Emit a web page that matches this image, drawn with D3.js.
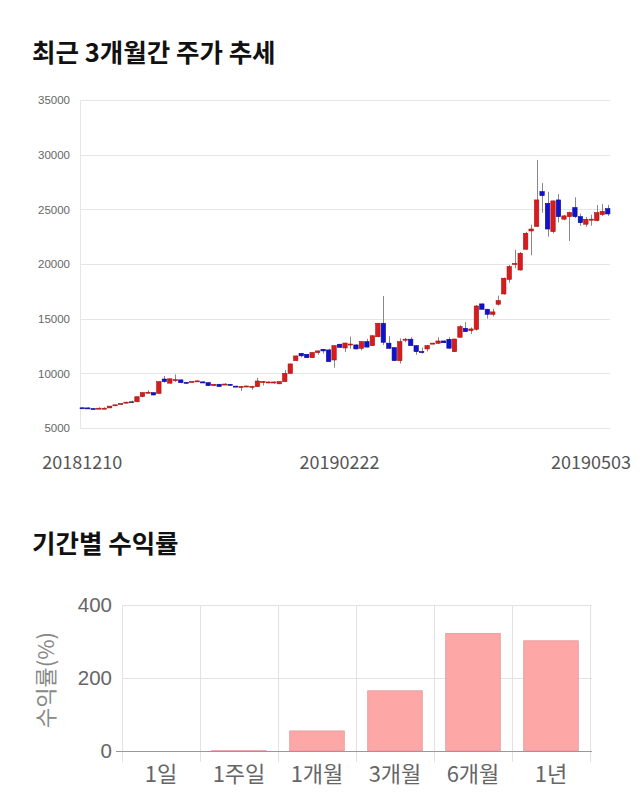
<!DOCTYPE html>
<html><head><meta charset="utf-8">
<script src="https://cdn.jsdelivr.net/npm/d3@7/dist/d3.min.js"></script>
<style>
body{margin:0;background:#fff;}
svg{display:block;}
</style></head><body>
<svg id="c" width="640" height="810"></svg>
<script>
// ---- Top chart data (candles, KRW) ----
const opens  = [6850,6840,6780,6800,6800,6840,7050,7180,7320,7400,7400,7870,8250,8230,8170,9480,9100,9400,9400,9180,9240,9300,9220,9150,8880,9000,8980,9000,8830,8700,8830,8800,8780,9240,9200,9200,9040,9240,10000,11160,11830,11740,11430,11900,12200,12140,11220,12660,12320,12620,12600,12290,12900,12530,13350,14580,12760,12350,11160,13100,13120,12530,11990,12230,12750,12750,12960,13110,11980,13300,14120,13900,14030,16350,15860,15400,16320,17260,18600,20000,19450,21350,23020,23440,26620,25550,22960,25860,24100,24330,25160,24330,23640,24090,23970,24520,25060];
const highs  = [6870,6870,6820,6900,6900,7010,7130,7260,7400,7500,7880,8260,8450,8250,9260,9750,9520,9900,9420,9200,9300,9350,9250,9160,9020,9020,9100,9020,8850,8820,8870,8850,9600,9300,9260,9260,9260,10300,10900,11620,11850,11760,11920,12100,12220,12250,12560,12700,12800,13350,12650,12950,13150,13460,14600,17070,13400,12380,13200,13250,13300,12560,12350,12600,12800,13300,13000,13300,13160,14400,14700,14200,16250,16400,15900,15900,17100,18750,19900,21300,21100,22950,23600,29520,27400,26600,25800,26400,24500,24800,26100,24600,24300,24500,25400,25500,25400];
const lows   = [6800,6790,6740,6770,6780,6820,7030,7150,7300,7300,7380,7850,8180,8000,8150,9150,9050,9200,9100,9050,9200,9250,9100,8850,8870,8780,8950,8880,8750,8380,8800,8500,8760,8900,9100,9050,9020,9200,9980,11140,11450,11400,11410,11700,11800,11050,10500,12350,11950,12250,12200,12100,12380,12500,13300,12600,12250,11150,10900,12850,12500,11700,11800,12000,12700,12700,12780,12250,11950,13280,13780,13600,13900,15840,15000,15200,16200,17200,18300,19600,19400,21300,20800,23400,24700,22500,22800,23800,24000,22100,24200,23500,23400,23500,23900,24400,24400];
const closes = [6820,6810,6760,6810,6810,7000,7120,7240,7360,7400,7860,8230,8270,8020,9240,9240,9500,9420,9150,9170,9260,9310,9120,8870,9000,8800,9020,8900,8780,8800,8840,8810,9300,9250,9210,9210,9240,10000,10860,11590,11600,11430,11900,12050,12050,11070,12530,12380,12770,12680,12230,12900,12400,13440,14580,12840,12290,11160,12900,13120,12530,11980,11970,12530,12760,12960,12800,12300,13140,14270,13810,14060,16160,15860,15400,15620,16650,18700,19760,20050,20980,22810,23200,25860,26250,23200,25770,24330,24400,24700,24330,23780,24090,24100,24700,24820,24580];
const yTicks = [5000,10000,15000,20000,25000,30000,35000];
const dateLabels = ["20181210","20190222","20190503"];
const dateLabelIdx = [0,47,96];

// ---- Bottom chart data (period returns, %) ----
const periods = ["1일","1주일","1개월","3개월","6개월","1년"];
const returns = [0,1,55,165,322,302];
const rTicks = [0,200,400];

const svg = d3.select("#c");

// Titles
svg.append("text").attr("x",32).attr("y",62).text("최근 3개월간 주가 추세")
  .attr("font-family","'Noto Sans CJK KR'").attr("font-weight","bold").attr("font-size",25.5).attr("fill","#111");
svg.append("text").attr("x",32).attr("y",553).text("기간별 수익률")
  .attr("font-family","'Noto Sans CJK KR'").attr("font-weight","bold").attr("font-size",25.5).attr("fill","#111");

// ---- Candle chart ----
const idx = d3.range(opens.length);
const x = d3.scaleBand().domain(idx).range([79.5,610.5]).paddingInner(0.2).paddingOuter(0.1);
const y = d3.scaleLinear().domain([5000,35000]).range([428,100]);
const g = svg.append("g");

g.selectAll("line.grid").data(yTicks).join("line").attr("class","grid")
  .attr("x1",80).attr("x2",610).attr("y1",d=>Math.round(y(d))+0.5).attr("y2",d=>Math.round(y(d))+0.5)
  .attr("stroke","#e6e6e6").attr("stroke-width",1);
g.append("line").attr("x1",80.5).attr("x2",80.5).attr("y1",100).attr("y2",428).attr("stroke","#e6e6e6");

const yAxis = d3.axisLeft(y).tickValues(yTicks).tickSize(0).tickPadding(0).tickFormat(d3.format("d"));
const ya = g.append("g").attr("transform","translate(70,0)").call(yAxis);
ya.select(".domain").remove();
ya.selectAll("text").attr("font-family","'Liberation Sans',Arial").attr("font-size",11.5).attr("fill","#666");

const cx = i => x(i) + x.bandwidth()/2;
g.selectAll("line.wick").data(idx).join("line").attr("class","wick")
  .attr("x1",i=>Math.round(cx(i))+0.5).attr("x2",i=>Math.round(cx(i))+0.5)
  .attr("y1",i=>y(highs[i])).attr("y2",i=>y(lows[i]))
  .attr("stroke","#888").attr("stroke-width",1);
const col = i => closes[i] > opens[i] ? "#d81c1c" : (closes[i] < opens[i] ? "#1212cc" : "#333");
const stk = i => closes[i] > opens[i] ? "#a81212" : (closes[i] < opens[i] ? "#0a0a95" : "#333");
g.selectAll("rect.body").data(idx).join("rect").attr("class","body")
  .attr("x",i=>x(i)).attr("width",x.bandwidth())
  .attr("y",i=>y(Math.max(opens[i],closes[i])))
  .attr("height",i=>Math.max(1,Math.abs(y(opens[i])-y(closes[i]))))
  .attr("fill",col).attr("stroke",stk).attr("stroke-width",0.6);

// date labels
const dl = g.selectAll("text.date").data(dateLabelIdx).join("text").attr("class","date")
  .attr("y",469).attr("text-anchor","middle")
  .attr("font-family","'Noto Sans CJK KR'").attr("font-size",18).attr("fill","#555")
  .text((d,k)=>dateLabels[k]);
dl.each(function(d){
  const w = this.getComputedTextLength();
  let px = cx(d);
  px = Math.min(px, 631 - w/2);
  px = Math.max(px, w/2 + 2);
  d3.select(this).attr("x",px);
});

// ---- Bar chart ----
const bx = d3.scaleBand().domain(periods).range([122,590]).paddingInner(0.3).paddingOuter(0.15);
const bxOuter = d3.scaleBand().domain(periods).range([122,590]);
const by = d3.scaleLinear().domain([0,400]).range([751,605]);
const b = svg.append("g");

b.selectAll("line.bgrid").data(rTicks.filter(d=>d>0)).join("line").attr("class","bgrid")
  .attr("x1",122).attr("x2",592).attr("y1",d=>Math.round(by(d))+0.5).attr("y2",d=>Math.round(by(d))+0.5)
  .attr("stroke","#e2e2e2");
const seps = periods.map(p=>bxOuter(p)).concat([590]);
b.selectAll("line.vsep").data(seps).join("line").attr("class","vsep")
  .attr("x1",d=>Math.round(d)+0.5).attr("x2",d=>Math.round(d)+0.5)
  .attr("y1",605).attr("y2",762).attr("stroke","#e2e2e2");

b.selectAll("rect.bar").data(periods).join("rect").attr("class","bar")
  .attr("x",p=>bx(p)).attr("width",bx.bandwidth())
  .attr("y",(p,i)=>by(returns[i])).attr("height",(p,i)=>by(0)-by(returns[i]))
  .attr("fill","#fda7a7").attr("stroke","#e59a9a").attr("stroke-width",0.8);

b.append("line").attr("x1",116).attr("x2",592).attr("y1",751.5).attr("y2",751.5).attr("stroke","#999");

const bya = b.append("g").attr("transform","translate(112,0)")
  .call(d3.axisLeft(by).tickValues(rTicks).tickSize(0).tickPadding(0));
bya.select(".domain").remove();
bya.selectAll("text").attr("font-family","'Liberation Sans',Arial").attr("font-size",20.5).attr("fill","#666");

const bxa = b.append("g").attr("transform","translate(0,762)")
  .call(d3.axisBottom(bxOuter).tickSize(0).tickPadding(0));
bxa.select(".domain").remove();
bxa.selectAll("text").attr("dy",0).attr("y",20).attr("font-family","'Noto Sans CJK KR'").attr("font-size",22).attr("fill","#666");

svg.append("text").attr("transform","translate(54,680) rotate(-90)").attr("text-anchor","middle")
  .attr("font-family","'Noto Sans CJK KR'").attr("font-size",22).attr("fill","#888")
  .text("수익률(%)");
</script>
</body></html>
